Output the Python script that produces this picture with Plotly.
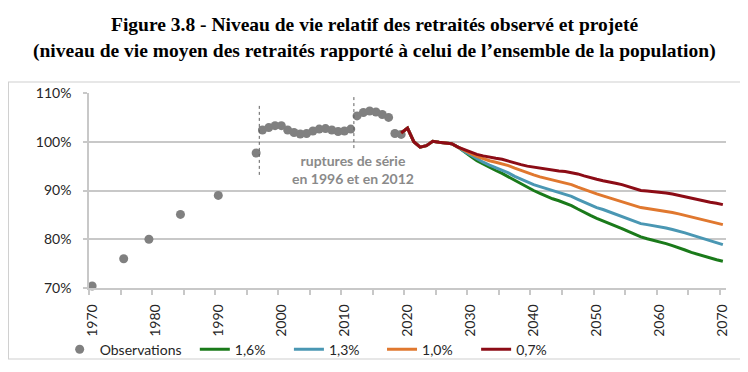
import plotly.graph_objects as go

# ---------------- data ----------------
obs_years = [1970, 1975, 1979, 1984, 1990, 1996,
             1997, 1998, 1999, 2000, 2001, 2002, 2003, 2004, 2005, 2006, 2007,
             2008, 2009, 2010, 2011, 2012, 2013, 2014, 2015, 2016, 2017, 2018, 2019]
obs_values = [70.4, 76.0, 80.0, 85.1, 89.0, 97.7,
              102.4, 102.9, 103.3, 103.3, 102.4, 101.9, 101.6, 101.7, 102.2, 102.6, 102.7,
              102.4, 102.1, 102.2, 102.6, 105.3, 106.0, 106.3, 106.1, 105.6, 105.0, 101.7, 101.5]

proj_years = list(range(2019, 2071))
common_start = [101.8, 102.8, 100.0, 98.9, 99.2, 100.1, 99.9, 99.8, 99.6, 98.9]  # 2019-2028

s16_tail = [97.9, 97.0, 96.1, 95.4, 94.7, 94.1, 93.5, 92.8, 92.1, 91.4, 90.6, 90.0,
            89.4, 88.8, 88.3, 87.9, 87.4, 86.9, 86.2, 85.5, 84.9, 84.3, 83.8, 83.3,
            82.8, 82.2, 81.6, 81.0, 80.5, 80.1, 79.8, 79.5, 79.1, 78.7, 78.3, 77.8,
            77.3, 76.9, 76.5, 76.1, 75.8, 75.5]
s13_tail = [98.0, 97.3, 96.5, 95.8, 95.2, 94.7, 94.2, 93.6, 92.9, 92.3, 91.7, 91.2,
            90.8, 90.4, 90.0, 89.7, 89.3, 88.8, 88.2, 87.6, 87.0, 86.5, 86.1, 85.6,
            85.2, 84.7, 84.1, 83.6, 83.2, 83.0, 82.8, 82.6, 82.3, 82.0, 81.7, 81.3,
            80.9, 80.5, 80.1, 79.7, 79.3, 78.9]
s10_tail = [98.2, 97.6, 97.0, 96.5, 96.1, 95.8, 95.5, 95.1, 94.6, 94.1, 93.6, 93.2,
            92.8, 92.5, 92.2, 91.9, 91.6, 91.2, 90.7, 90.2, 89.8, 89.3, 88.9, 88.5,
            88.2, 87.8, 87.3, 86.9, 86.5, 86.3, 86.1, 86.0, 85.7, 85.5, 85.2, 84.9,
            84.6, 84.2, 83.9, 83.6, 83.3, 83.0]
s07_tail = [98.4, 97.9, 97.4, 97.1, 96.8, 96.6, 96.4, 96.0, 95.7, 95.3, 95.0, 94.8,
            94.5, 94.3, 94.1, 94.0, 93.9, 93.7, 93.4, 93.0, 92.6, 92.3, 92.0, 91.8,
            91.5, 91.2, 90.8, 90.3, 90.0, 89.9, 89.8, 89.7, 89.5, 89.3, 89.0, 88.7,
            88.4, 88.1, 87.9, 87.6, 87.4, 87.1]

series_names = ["1,6%", "1,3%", "1,0%", "0,7%"]
series_values = [common_start + s16_tail, common_start + s13_tail,
                 common_start + s10_tail, common_start + s07_tail]
series_colors = ["#1a7a1a", "#4a97b3", "#e0782f", "#8c0c16"]

x_tick_vals = list(range(1970, 2071, 10))
x_tick_text = [str(v) for v in x_tick_vals]
y_tick_vals = [70, 80, 90, 100, 110]
y_tick_text = ["70%", "80%", "90%", "100%", "110%"]

# ---------------- figure ----------------
FONT = "Lato"
fig = go.Figure()

fig.add_trace(go.Scatter(
    x=obs_years, y=obs_values, mode="markers", name="Observations",
    marker=dict(size=9, color="#808080"), legend="legend", cliponaxis=False))

legend_ids = ["legend2", "legend3", "legend4", "legend5"]
for name, vals, col, lg in zip(series_names, series_values, series_colors, legend_ids):
    fig.add_trace(go.Scatter(
        x=proj_years, y=vals, mode="lines", name=name,
        line=dict(color=col, width=3), legend=lg))

# page offset (browser body margin) and plot-area geometry in screen pixels
OFF = 8
W, H = 748 - OFF, 372 - OFF
plot_left, plot_right, plot_top, plot_bottom = 89.3, 725.6, 93.3, 288.3
L = plot_left - OFF
R = W - (plot_right - OFF)
T = plot_top - OFF
B = H - (plot_bottom - OFF)
pw, ph = plot_right - plot_left, plot_bottom - plot_top

def px(X):
    return (X - plot_left) / pw

def py(Y):
    return (plot_bottom - Y) / ph

legend_common = dict(orientation="h", bgcolor="rgba(0,0,0,0)",
                     font=dict(family=FONT, size=14, color="#262626"),
                     xanchor="left", yanchor="middle", itemwidth=30)
legend_x_px = [60, 195, 289, 382, 476]
layout_legends = {}
for i, lid in enumerate(["legend"] + legend_ids):
    layout_legends[lid] = dict(legend_common, x=px(legend_x_px[i]), y=py(350))

grid_col = "#c8c8c8"
fig.update_layout(
    template="none",
    width=W, height=H,
    margin=dict(l=L, r=R, t=T, b=B, autoexpand=False),
    paper_bgcolor="white", plot_bgcolor="white",
    showlegend=True,
    font=dict(family=FONT, color="#262626"),
    xaxis=dict(range=[1969.5, 2070.5], tickvals=x_tick_vals, ticktext=x_tick_text,
               tickangle=-90, ticks="", showgrid=False, zeroline=False, automargin=False,
               showline=True, linecolor=grid_col, linewidth=1.5,
               tickfont=dict(family=FONT, size=14, color="#262626"),
               ticklabelstandoff=9,
               minor=dict(tick0=1969.5, dtick=5, ticks="outside", ticklen=5,
                          tickcolor=grid_col, tickwidth=1.5, showgrid=False)),
    yaxis=dict(range=[70, 110], tickvals=y_tick_vals, ticktext=y_tick_text,
               showgrid=True, gridcolor=grid_col, gridwidth=1.5, automargin=False,
               zeroline=False, showline=True, linecolor=grid_col, linewidth=1.5,
               ticks="outside", ticklen=4, tickcolor=grid_col, tickwidth=1.5,
               ticklabelstandoff=9,
               tickfont=dict(family=FONT, size=14, color="#262626")),
    **layout_legends,
)

# frame around chart
fig.add_shape(type="rect", xref="paper", yref="paper",
              x0=px(8.8), x1=px(741.5), y0=py(359.3), y1=py(82.3),
              line=dict(color="#d0d0d0", width=1.2), layer="below")

# series-break dotted lines
fig.add_shape(type="line", xref="x", yref="y", x0=1996.5, x1=1996.5, y0=93.2, y1=107.5,
              line=dict(color="#606060", width=1, dash="dot"))
fig.add_shape(type="line", xref="x", yref="y", x0=2011.5, x1=2011.5, y0=98.7, y1=109.5,
              line=dict(color="#606060", width=1, dash="dot"))

fig.add_annotation(x=2011.4, y=94.3, xref="x", yref="y",
                   text="<b>ruptures de série<br>en 1996 et en 2012</b>",
                   showarrow=False, font=dict(family=FONT, size=14, color="#8a8a8a"),
                   align="center")

# titles
title_font = dict(family="Liberation Serif", size=19.5, color="#000000")
fig.add_annotation(x=px(374), y=py(25), xref="paper", yref="paper", showarrow=False,
                   text="<b>Figure 3.8 - Niveau de vie relatif des retraités observé et projeté</b>",
                   font=title_font, xanchor="center", yanchor="middle")
fig.add_annotation(x=px(374), y=py(51), xref="paper", yref="paper", showarrow=False,
                   text="<b>(niveau de vie moyen des retraités rapporté à celui de l’ensemble de la population)</b>",
                   font=title_font, xanchor="center", yanchor="middle")

fig.write_html("out.html")
